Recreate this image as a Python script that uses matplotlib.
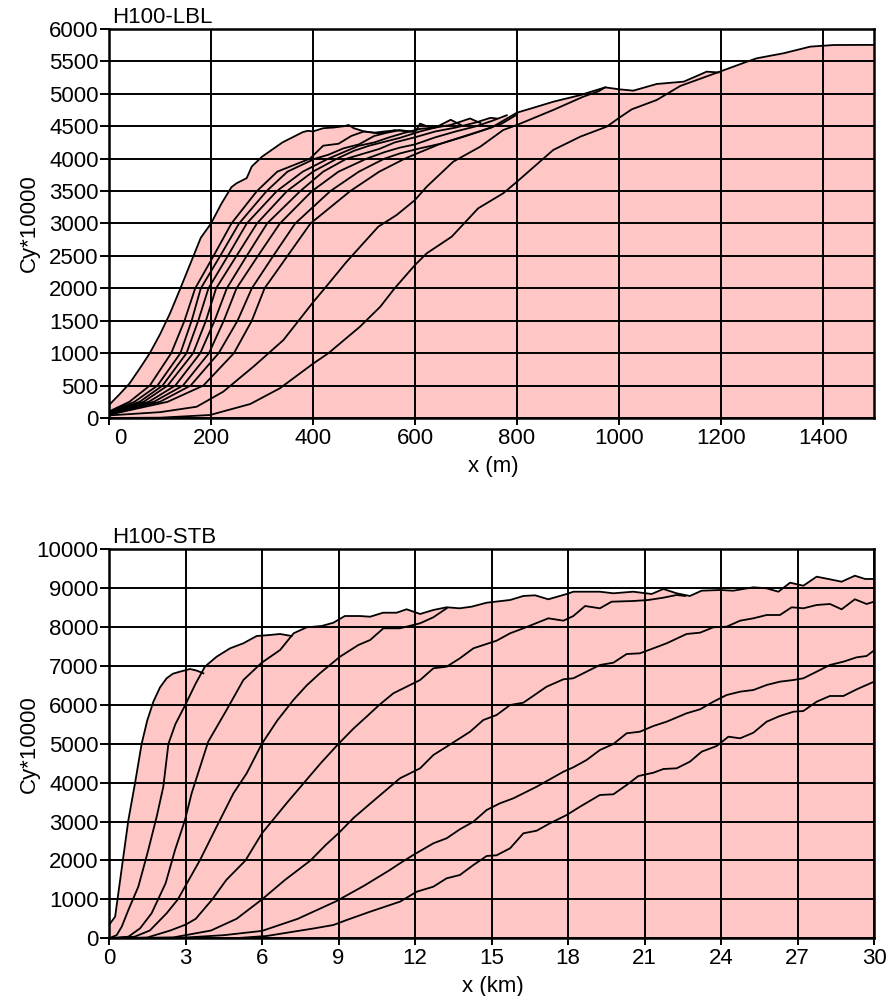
import matplotlib
matplotlib.use("Agg")
import matplotlib.pyplot as plt
from matplotlib.transforms import ScaledTranslation

plt.rcParams['font.family'] = ['Liberation Sans', 'DejaVu Sans']
plt.rcParams['font.size'] = 16

PINK = '#FFC6C6'

# ---------------- H100-LBL (x in m) ----------------
lbl_x1 = [0, 20, 40, 60, 80, 100, 120, 140, 160, 180, 200, 220, 240, 250, 260, 270, 280, 300, 320, 340, 360, 380, 390, 400, 420, 440, 460, 470, 480, 500, 520, 540, 560]
lbl_y1 = [200, 360, 530, 760, 1000, 1290, 1620, 2000, 2390, 2780, 3000, 3300, 3560, 3620, 3660, 3700, 3880, 4030, 4140, 4250, 4330, 4410, 4430, 4420, 4470, 4480, 4500, 4520, 4470, 4420, 4400, 4420, 4430]

lbl_x2 = [0, 40, 80, 122, 148, 169, 205, 240, 290, 330, 394, 420, 450, 475, 500, 530, 560, 590]
lbl_y2 = [100, 250, 500, 1000, 1500, 2000, 2500, 3000, 3500, 3800, 4000, 4200, 4230, 4350, 4420, 4390, 4440, 4420]

lbl_x3 = [0, 50, 95, 140, 162, 180, 218, 255, 309, 350, 404, 430, 460, 490, 520, 545, 570, 600, 610, 630]
lbl_y3 = [90, 250, 500, 1000, 1500, 2000, 2500, 3000, 3500, 3800, 4000, 4060, 4160, 4220, 4350, 4400, 4440, 4410, 4540, 4480]

lbl_x4 = [0, 60, 105, 152, 175, 195, 233, 270, 329, 380, 430, 460, 490, 520, 550, 580, 610, 640, 670, 690]
lbl_y4 = [80, 250, 500, 1000, 1500, 2000, 2500, 3000, 3500, 3800, 4000, 4100, 4200, 4250, 4330, 4400, 4460, 4480, 4600, 4520]

lbl_x5 = [0, 68, 115, 165, 190, 210, 250, 290, 349, 400, 447, 480, 510, 540, 570, 610, 640, 670, 708, 728]
lbl_y5 = [75, 250, 500, 1000, 1500, 2000, 2500, 3000, 3500, 3800, 4000, 4120, 4200, 4260, 4320, 4420, 4480, 4520, 4620, 4550]

lbl_x6 = [0, 78, 130, 179, 207, 231, 270, 310, 375, 420, 466, 500, 530, 560, 600, 640, 680, 720, 748, 760]
lbl_y6 = [70, 250, 500, 1000, 1500, 2000, 2500, 3000, 3500, 3800, 4000, 4080, 4150, 4250, 4330, 4420, 4480, 4560, 4630, 4620]

lbl_x7 = [0, 88, 145, 196, 225, 250, 292, 335, 398, 450, 505, 540, 570, 600, 640, 680, 720, 750, 780]
lbl_y7 = [65, 250, 500, 1000, 1500, 2000, 2500, 3000, 3500, 3800, 4000, 4100, 4170, 4220, 4330, 4420, 4500, 4580, 4670]

lbl_x8 = [0, 100, 160, 215, 252, 280, 322, 365, 434, 490, 540, 570, 610, 650, 690, 730, 770, 800]
lbl_y8 = [60, 250, 500, 1000, 1500, 2000, 2500, 3000, 3500, 3800, 4000, 4080, 4160, 4230, 4330, 4430, 4540, 4680]

lbl_x9 = [0, 115, 185, 245, 280, 305, 350, 395, 473, 530, 580, 610, 650, 700, 750, 800, 830, 872, 924, 973]
lbl_y9 = [50, 250, 500, 1000, 1500, 2000, 2500, 3000, 3500, 3800, 4000, 4100, 4230, 4350, 4480, 4710, 4780, 4880, 4980, 5100]

lbl_x10 = [0, 100, 172, 224, 283, 313, 342, 401, 423, 466, 528, 564, 600, 623, 675, 728, 773, 800, 871, 930, 960, 973, 1000, 1028, 1074, 1127, 1172, 1195]
lbl_y10 = [40, 90, 174, 406, 791, 1000, 1203, 1794, 2000, 2411, 2951, 3131, 3363, 3568, 3954, 4185, 4442, 4520, 4751, 4956, 5040, 5100, 5070, 5049, 5152, 5188, 5342, 5330]

lbl_x11 = [0, 100, 198, 277, 335, 401, 430, 492, 532, 560, 600, 623, 672, 724, 773, 800, 871, 924, 976, 999, 1025, 1074, 1120, 1192, 1251, 1270, 1323, 1375, 1421, 1500]
lbl_y11 = [0, 5, 46, 216, 458, 843, 998, 1408, 1717, 2000, 2360, 2540, 2797, 3235, 3466, 3645, 4134, 4339, 4494, 4623, 4761, 4905, 5121, 5326, 5496, 5548, 5626, 5728, 5753, 5755]

lbl_xticks = [0, 200, 400, 600, 800, 1000, 1200, 1400]
lbl_yticks = list(range(0, 6001, 500))

# ---------------- H100-STB (x in km) ----------------
stb_x1 = [0, 0.24, 0.5, 0.76, 1.02, 1.28, 1.5, 1.74, 2.0, 2.26, 2.5, 2.78, 3.18, 3.45, 3.70]
stb_y1 = [342, 555, 1800, 3041, 3985, 5000, 5600, 6082, 6450, 6684, 6800, 6854, 6923, 6880, 6812]

stb_x2 = [0, 0.3, 0.5, 0.76, 1.15, 1.43, 1.54, 1.87, 2.13, 2.33, 2.6, 2.98, 3.4, 3.76, 4.22, 4.75, 5.27, 5.79, 6.31, 6.71, 7.16]
stb_y2 = [0, 80, 300, 728, 1327, 2000, 2270, 3126, 3897, 5000, 5500, 5985, 6550, 6982, 7239, 7455, 7584, 7771, 7797, 7823, 7771]

stb_x3 = [0, 0.76, 1.22, 1.67, 2.22, 2.59, 2.98, 3.24, 3.89, 4.61, 5.27, 5.99, 6.71, 7.24, 7.75, 8.34, 8.80, 9.25, 9.84, 10.24, 10.75, 11.28, 11.67, 12.2, 12.72, 13.24, 13.75, 14.22, 14.81, 15.73, 16.25, 16.71, 17.23, 17.95, 18.21, 19.25, 19.78, 20.56, 21.28, 21.74, 22.26, 22.78, 23.24, 23.96, 24.48, 25.27, 25.79, 26.25, 26.71, 27.23, 27.75, 28.27, 28.73, 29.25, 29.65, 30.0]
stb_y3 = [0, 41, 257, 643, 1414, 2270, 3041, 3727, 5054, 5869, 6640, 7085, 7411, 7841, 7995, 8028, 8113, 8285, 8285, 8267, 8370, 8370, 8458, 8337, 8440, 8509, 8483, 8525, 8627, 8697, 8800, 8817, 8715, 8851, 8910, 8910, 8869, 8910, 8851, 8980, 8869, 8800, 8936, 8954, 8936, 9023, 8997, 8910, 9142, 9064, 9296, 9229, 9167, 9321, 9237, 9237]

stb_x4 = [0, 1.0, 1.6, 2.26, 2.7, 2.98, 3.57, 4.22, 4.88, 5.4, 5.99, 6.6, 7.23, 7.75, 8.27, 9.06, 9.78, 10.24, 10.76, 11.41, 12.2, 12.72, 13.24]
stb_y4 = [0, 40, 200, 643, 1000, 1327, 2013, 2869, 3727, 4242, 4995, 5600, 6125, 6500, 6812, 7240, 7540, 7668, 7969, 7969, 8098, 8252, 8483]

stb_x5 = [0, 1.5, 2.4, 3.0, 3.4, 4.05, 4.6, 5.35, 6.0, 6.5, 7.0, 7.65, 8.3, 9.0, 9.6, 10.1, 10.6, 11.15, 11.41, 12.2, 12.72, 13.24, 13.76, 14.29, 15.2, 15.73, 16.25, 17.23, 17.82, 18.21, 18.67, 19.25, 19.71, 20.56, 21.15, 21.74, 22.26, 22.6]
stb_y5 = [0, 20, 200, 350, 500, 1000, 1500, 2000, 2700, 3100, 3500, 4000, 4500, 5000, 5400, 5697, 6000, 6298, 6383, 6640, 6941, 6982, 7198, 7455, 7651, 7841, 7969, 8226, 8165, 8285, 8542, 8483, 8653, 8671, 8697, 8756, 8825, 8800]

stb_x6 = [0, 2.5, 4.0, 5.0, 6.0, 6.9, 7.9, 8.5, 9.0, 9.6, 10.4, 11.41, 12.2, 12.72, 13.24, 14.16, 14.68, 15.2, 15.73, 16.25, 17.16, 17.82, 18.21, 19.25, 19.78, 20.30, 20.82, 21.35, 21.87, 22.65, 23.18, 23.70, 24.22, 24.75, 25.27, 25.79, 26.31, 26.77, 27.23, 27.75, 28.27, 28.73, 29.25, 29.71, 30.0]
stb_y6 = [0, 20, 200, 500, 1000, 1500, 2000, 2400, 2700, 3100, 3550, 4113, 4370, 4712, 4926, 5311, 5612, 5740, 5997, 6057, 6468, 6658, 6684, 7026, 7085, 7308, 7326, 7455, 7584, 7823, 7857, 7995, 8011, 8165, 8226, 8311, 8311, 8509, 8483, 8568, 8594, 8458, 8715, 8594, 8653]

stb_x7 = [0, 3.0, 4.5, 6.0, 7.4, 8.9, 10.0, 11.0, 11.41, 11.93, 12.72, 13.24, 13.76, 14.29, 14.81, 15.33, 15.86, 16.77, 17.29, 17.82, 18.21, 18.73, 19.25, 19.78, 20.30, 20.82, 21.35, 21.87, 22.65, 23.18, 23.70, 24.22, 24.75, 25.27, 25.79, 26.31, 26.84, 27.23, 27.75, 28.27, 28.8, 29.32, 29.71, 30.0]
stb_y7 = [0, 20, 80, 190, 500, 950, 1350, 1750, 1928, 2141, 2442, 2571, 2802, 2998, 3298, 3470, 3599, 3897, 4087, 4283, 4396, 4584, 4840, 4995, 5270, 5311, 5458, 5569, 5784, 5887, 6082, 6254, 6340, 6383, 6512, 6597, 6640, 6684, 6854, 7026, 7111, 7223, 7257, 7400]

stb_x8 = [0, 4.88, 6.18, 7.23, 8.0, 8.80, 9.32, 10.24, 11.22, 11.41, 12.07, 12.72, 13.24, 13.76, 14.29, 14.81, 15.2, 15.73, 16.25, 16.77, 17.29, 17.95, 18.47, 19.25, 19.78, 20.3, 20.76, 21.35, 21.74, 22.26, 22.78, 23.24, 23.83, 24.29, 24.75, 25.27, 25.79, 26.31, 26.84, 27.23, 27.75, 28.27, 28.8, 29.32, 30.0]
stb_y8 = [0, 0, 59, 170, 250, 342, 470, 684, 900, 941, 1198, 1327, 1542, 1627, 1884, 2116, 2134, 2314, 2699, 2766, 2956, 3170, 3383, 3684, 3702, 3941, 4172, 4257, 4352, 4370, 4540, 4797, 4943, 5183, 5141, 5285, 5569, 5715, 5825, 5843, 6082, 6229, 6229, 6400, 6597]

stb_xticks = list(range(0, 31, 3))
stb_yticks = list(range(0, 10001, 1000))

lbl_curves = [(lbl_x1, lbl_y1), (lbl_x2, lbl_y2), (lbl_x3, lbl_y3), (lbl_x4, lbl_y4),
              (lbl_x5, lbl_y5), (lbl_x6, lbl_y6), (lbl_x7, lbl_y7), (lbl_x8, lbl_y8),
              (lbl_x9, lbl_y9), (lbl_x10, lbl_y10), (lbl_x11, lbl_y11)]
stb_curves = [(stb_x1, stb_y1), (stb_x2, stb_y2), (stb_x3, stb_y3), (stb_x4, stb_y4),
              (stb_x5, stb_y5), (stb_x6, stb_y6), (stb_x7, stb_y7), (stb_x8, stb_y8)]

fig = plt.figure(figsize=(8.88, 9.96), dpi=100)
ax_top = fig.add_axes([109 / 888, 1 - 418 / 996, 765 / 888, 389 / 996])
ax_bot = fig.add_axes([109 / 888, 1 - 938.3 / 996, 765 / 888, 389 / 996])


def draw_panel(ax, curves, xlim, ylim, xticks, yticks, title, xlabel):
    for xs, ys in curves:
        ax.fill_between(xs, 0, ys, color=PINK, lw=0, zorder=0.5)
    for xs, ys in curves:
        ax.plot(xs, ys, color='black', lw=1.3, zorder=3)
    ax.set_xlim(*xlim)
    ax.set_ylim(*ylim)
    ax.set_xticks(xticks)
    ax.set_yticks(yticks)
    ax.set_axisbelow(False)
    ax.grid(True, color='black', lw=1.4, zorder=2)
    for s in ax.spines.values():
        s.set_linewidth(1.8)
        s.set_zorder(4)
    ax.tick_params(axis='x', direction='out', length=5, width=1.4, pad=2)
    ax.tick_params(axis='y', direction='out', length=6.5, width=1.4, pad=1)
    ax.set_ylabel('Cy*10000')
    ax.yaxis.set_label_coords(-0.09, 0.5)
    ax.set_xlabel(xlabel)
    ax.xaxis.set_label_coords(0.502, -0.097)
    ax.text(0.004, 1.003, title, transform=ax.transAxes, ha='left', va='bottom')


draw_panel(ax_top, lbl_curves, (0, 1500), (0, 6000), lbl_xticks, lbl_yticks, 'H100-LBL', 'x (m)')
draw_panel(ax_bot, stb_curves, (0, 30), (0, 10000), stb_xticks, stb_yticks, 'H100-STB', 'x (km)')

# nudge the "0" label of the upper panel to the right of the y-axis
fig.canvas.draw()
lab0 = ax_top.get_xticklabels()[0]
lab0.set_transform(lab0.get_transform() + ScaledTranslation(0.115, 0, fig.dpi_scale_trans))

fig.savefig('out.png', dpi=100)
